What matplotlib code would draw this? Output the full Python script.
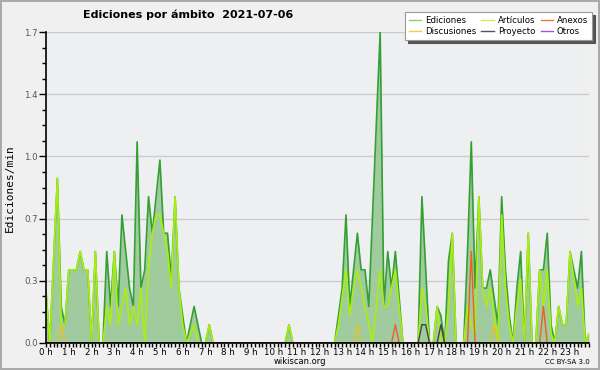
import matplotlib.pyplot as plt
from matplotlib.lines import Line2D
from matplotlib.ticker import FixedLocator, MultipleLocator
import numpy as np

# one value every 10 minutes (edits/min), 00:00 .. 23:50
ediciones = [
    0.28, 0, 0.45, 0.9, 0.2, 0.1, 0.4, 0.4, 0.4, 0.5, 0.4, 0.4,
    0, 0.5, 0, 0, 0.5, 0.2, 0.5, 0.2, 0.7, 0.5, 0.3, 0.2,
    1.1, 0.3, 0.4, 0.8, 0.6, 0.8, 1.0, 0.6, 0.6, 0.35, 0.8, 0.3,
    0.15, 0, 0.1, 0.2, 0.1, 0, 0, 0.1, 0, 0, 0, 0,
    0, 0, 0, 0, 0, 0, 0, 0, 0, 0, 0, 0,
    0, 0, 0, 0, 0.1, 0, 0, 0, 0, 0, 0, 0,
    0, 0, 0, 0, 0, 0.15, 0.3, 0.7, 0.2, 0.4, 0.6, 0.4,
    0.4, 0.2, 0.7, 1.2, 1.7, 0.2, 0.5, 0.3, 0.5, 0.25, 0, 0,
    0, 0, 0, 0.8, 0.4, 0, 0, 0.2, 0.15, 0, 0.45, 0.6,
    0, 0, 0, 0.5, 1.1, 0.3, 0.8, 0.3, 0.3, 0.4, 0.25, 0.1,
    0.8, 0.4, 0.15, 0, 0.3, 0.5, 0, 0.6, 0, 0, 0.4, 0.4,
    0.6, 0.1, 0, 0.2, 0.1, 0.1, 0.5, 0.4, 0.3, 0.5, 0, 0.05,
]
articulos = [
    0.28, 0, 0.45, 0.9, 0.1, 0.1, 0.4, 0.4, 0.4, 0.5, 0.4, 0.4,
    0, 0.5, 0, 0, 0.2, 0.1, 0.5, 0.1, 0.2, 0.3, 0.1, 0.2,
    0.1, 0.3, 0, 0.4, 0.6, 0.7, 0.7, 0.6, 0.5, 0.3, 0.8, 0.3,
    0.1, 0, 0.05, 0.1, 0, 0, 0, 0.1, 0, 0, 0, 0,
    0, 0, 0, 0, 0, 0, 0, 0, 0, 0, 0, 0,
    0, 0, 0, 0, 0.1, 0, 0, 0, 0, 0, 0, 0,
    0, 0, 0, 0, 0, 0.1, 0.25, 0.4, 0.15, 0.3, 0.4, 0.3,
    0.2, 0.1, 0, 0.2, 0.4, 0.2, 0.2, 0.3, 0.4, 0.2, 0, 0,
    0, 0, 0, 0.3, 0.2, 0, 0, 0.2, 0, 0, 0.2, 0.6,
    0, 0, 0, 0.2, 0.1, 0.05, 0.8, 0.3, 0.2, 0.3, 0.15, 0,
    0.7, 0.3, 0.1, 0, 0.2, 0.35, 0, 0.6, 0, 0, 0.4, 0.2,
    0.4, 0.05, 0, 0.2, 0.1, 0.1, 0.5, 0.35, 0.2, 0.3, 0, 0.05,
]
# sparse series: {slot index: value}
discusiones_picos = {4: 0.1, 82: 0.1, 118: 0.1}
anexos_picos = {92: 0.1, 112: 0.5, 131: 0.2}
proyecto_picos = {99: 0.1, 100: 0.1, 104: 0.1}
otros_picos = {}

n = len(ediciones)
x = np.arange(n) / 6.0  # hours


def serie(picos):
    s = np.zeros(n)
    for k, v in picos.items():
        s[k] = v
    return s


discusiones = serie(discusiones_picos)
anexos = serie(anexos_picos)
proyecto = serie(proyecto_picos)
otros = serie(otros_picos)

fig = plt.figure(figsize=(6, 3.7), dpi=100)
fig.patch.set_facecolor('#f0f0f0')
fig.patch.set_edgecolor('#aaaaaa')
fig.patch.set_linewidth(1.5)
ax = fig.add_axes([46/600, 1-343/370, 543/600, 311/370])
ax.set_facecolor('#eeeff1')

ymax = 1.7
yt = np.linspace(0, ymax, 6)
ax.yaxis.set_major_locator(FixedLocator(yt))
ax.yaxis.set_minor_locator(FixedLocator(np.linspace(0, ymax, 21)))
ax.set_yticklabels(['%.1f' % v for v in yt])
ax.grid(axis='y', color='#cccccc', linewidth=1)
ax.set_axisbelow(True)

ax.fill_between(x, ediciones, color='#9fcb9f', linewidth=0)
ax.plot(x, ediciones, color='#34a034', lw=1.2)
ax.plot(x, articulos, color='#aaee11', lw=1.2)
ax.plot(x, discusiones, color='#eec022', lw=1.0)
ax.plot(x, anexos, color='#ee6020', lw=1.0)
ax.plot(x, proyecto, color='#444444', lw=1.0)
ax.plot(x, otros, color='#9933ee', lw=1.0, alpha=0)

ax.set_xlim(0, x[-1])
ax.set_ylim(0, ymax)
ax.set_xticks(range(24))
ax.set_xticklabels(['%d h' % h for h in range(24)])
ax.xaxis.set_minor_locator(MultipleLocator(1/6))

for s in ['top', 'right']:
    ax.spines[s].set_visible(False)
ax.spines['left'].set_linewidth(1.2)
ax.spines['bottom'].set_linewidth(1.2)
ax.tick_params(axis='x', which='major', length=3, width=1, labelsize=6.2, pad=0.5)
ax.tick_params(axis='x', which='minor', length=3, width=1)
ax.tick_params(axis='y', which='major', length=5, width=1, labelsize=6.2,
               labelcolor='#555555', pad=1)
ax.tick_params(axis='y', which='minor', length=3, width=1)

fig.text(10/600, 1-188/370, 'Ediciones/min', rotation=90, va='center', ha='center',
         family='DejaVu Sans Mono', fontsize=8)
fig.text(188/600, 1-15/370, 'Ediciones por ámbito  2021-07-06', ha='center',
         va='center', fontsize=8, fontweight='bold')
fig.text(300/600, 1-362/370, 'wikiscan.org', ha='center', va='center', fontsize=6)
fig.text(590/600, 1-362/370, 'CC BY-SA 3.0', ha='right', va='center', fontsize=5)

handles = [
    Line2D([], [], color='#88cc88', lw=1),
    Line2D([], [], color='#eecc44', lw=1),
    Line2D([], [], color='#ccee55', lw=1),
    Line2D([], [], color='#555555', lw=1),
    Line2D([], [], color='#ee7744', lw=1),
    Line2D([], [], color='#9955ee', lw=1),
]
labels = ['Ediciones', 'Discusiones', 'Artículos', 'Proyecto', 'Anexos', 'Otros']
leg = fig.legend(handles, labels, ncol=3, loc='upper right',
                 bbox_to_anchor=(592/600, 1-12/370), fontsize=6.2,
                 frameon=True, fancybox=False,
                 shadow={'color': '#555555', 'alpha': 1, 'ox': 2, 'oy': -2},
                 handlelength=1.4, handletextpad=0.5, columnspacing=0.6,
                 labelspacing=0.25, borderpad=0.45, borderaxespad=0)
leg.get_frame().set_edgecolor('#999999')
leg.get_frame().set_linewidth(0.8)
leg.get_frame().set_alpha(1)

plt.savefig('out.png', dpi=100, facecolor=fig.get_facecolor(),
            edgecolor=fig.get_edgecolor())
